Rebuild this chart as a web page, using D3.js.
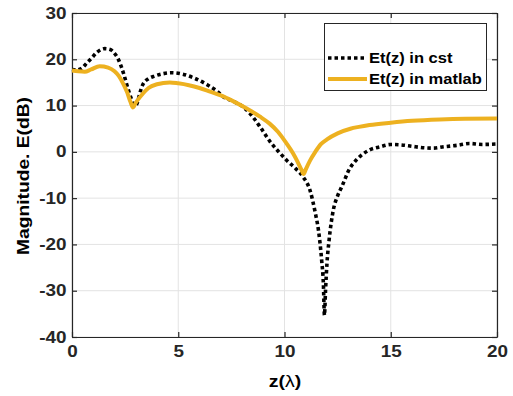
<!DOCTYPE html>
<html>
<head>
<meta charset="utf-8">
<script src="https://cdn.jsdelivr.net/npm/d3@7/dist/d3.min.js"></script>
<style>
  html, body { margin: 0; padding: 0; background: #fff; }
  svg { display: block; }
  text { font-family: "Liberation Sans", Arial, sans-serif; font-weight: bold; }
</style>
</head>
<body>
<svg id="chart" width="513" height="396"></svg>
<script>
// ---- data ----
const xTicks = [0, 5, 10, 15, 20];
const yTicks = [-40, -30, -20, -10, 0, 10, 20, 30];
const seriesNames = ["Et(z) in cst", "Et(z) in matlab"];

const cstZ = [0, 0.2, 0.44, 0.7, 0.91, 1.2, 1.54, 1.8, 2.0, 2.16, 2.32, 2.45, 2.56, 2.68, 2.79, 2.9, 3.0, 3.1, 3.2, 3.34, 3.6, 3.9, 4.3, 4.67, 5.2, 5.77, 6.4, 6.8, 7.12, 7.6, 8.06, 8.5, 8.85, 9.32, 9.79, 10.1, 10.5, 10.89, 11.2, 11.44, 11.6, 11.75, 11.83, 11.88, 11.93, 12.0, 12.1, 12.3, 12.5, 12.7, 13.08, 13.24, 13.6, 14.0, 14.5, 15.0, 15.5, 16.0, 16.5, 17.0, 17.5, 18.1, 18.7, 19.3, 20.0];
const cstE = [17.8, 17.7, 18.0, 19.2, 20.2, 21.6, 22.3, 22.1, 21.3, 20.2, 18.4, 16.6, 14.8, 13.0, 11.5, 10.2, 10.0, 11.0, 12.8, 14.6, 15.8, 16.4, 16.9, 17.1, 16.8, 15.9, 14.4, 13.2, 11.9, 10.9, 9.7, 7.6, 5.4, 2.2, -0.3, -1.8, -3.5, -5.5, -8.3, -13.0, -17.0, -23.5, -28.5, -35.3, -30.0, -24.0, -19.0, -12.5, -9.5, -7.5, -3.5, -2.5, -0.8, 0.4, 1.1, 1.6, 1.5, 1.2, 0.9, 0.8, 1.1, 1.4, 1.8, 1.6, 1.7];

const matZ = [0, 0.3, 0.6, 0.9, 1.3, 1.7, 2.0, 2.2, 2.4, 2.6, 2.75, 2.87, 3.0, 3.34, 3.6, 4.0, 4.6, 5.0, 5.5, 6.0, 6.5, 7.0, 7.6, 8.2, 8.85, 9.3, 9.7, 10.1, 10.4, 10.6, 10.8, 10.9, 11.0, 11.2, 11.45, 11.7, 12.0, 12.5, 13.1, 13.5, 14.0, 15.0, 16.0, 17.3, 18.5, 20.0];
const matE = [17.6, 17.4, 17.3, 17.8, 18.5, 18.2, 17.4, 16.4, 14.8, 12.8, 10.8, 9.6, 10.6, 12.6, 13.8, 14.6, 15.0, 14.8, 14.4, 13.8, 13.0, 12.2, 10.9, 9.4, 7.6, 6.1, 4.3, 1.8, -0.3, -2.0, -3.9, -4.8, -3.8, -1.9, 0.0, 1.6, 2.7, 4.0, 5.0, 5.4, 5.8, 6.3, 6.7, 7.0, 7.15, 7.2];

// ---- layout ----
const L = 72, R = 497, T = 13, B = 337;
const SX = 1.18; // horizontal glyph stretch
const svg = d3.select("#chart");
const x = d3.scaleLinear().domain([0, 20]).range([L, R]);
const y = d3.scaleLinear().domain([-40, 30]).range([B, T]);
const axisColor = "#262626";
const fmt = d => String(d);

// grid
const grid = svg.append("g");
grid.selectAll("line.gx").data(xTicks).join("line")
  .attr("x1", d => x(d)).attr("x2", d => x(d)).attr("y1", T).attr("y2", B)
  .attr("stroke", "#e3e3e3").attr("stroke-width", 1);
grid.selectAll("line.gy").data(yTicks).join("line")
  .attr("x1", L).attr("x2", R).attr("y1", d => y(d)).attr("y2", d => y(d))
  .attr("stroke", "#e3e3e3").attr("stroke-width", 1);

// axes
function styleAxis(g) {
  g.select(".domain").attr("stroke", axisColor).attr("stroke-width", 1.2);
  g.selectAll(".tick line").attr("stroke", axisColor).attr("stroke-width", 1.2);
}
const ax = svg.append("g").attr("transform", `translate(0,${B})`)
  .call(d3.axisBottom(x).tickValues(xTicks).tickFormat(fmt).tickSizeInner(-5).tickSizeOuter(0).tickPadding(9));
styleAxis(ax);
ax.selectAll(".tick text").attr("fill", axisColor).attr("font-size", 16)
  .attr("font-family", null).attr("transform", `scale(${SX},1)`);

const ay = svg.append("g").attr("transform", `translate(${L},0)`)
  .call(d3.axisLeft(y).tickValues(yTicks).tickFormat(fmt).tickSizeInner(-5).tickSizeOuter(0).tickPadding(5));
styleAxis(ay);
ay.selectAll(".tick text").attr("fill", axisColor).attr("font-size", 16)
  .attr("font-family", null).attr("x", -5.5 / SX).attr("transform", `scale(${SX},1)`);

const axt = svg.append("g").attr("transform", `translate(0,${T})`)
  .call(d3.axisTop(x).tickValues(xTicks).tickSizeInner(-5).tickSizeOuter(0).tickFormat(""));
styleAxis(axt);
const ayr = svg.append("g").attr("transform", `translate(${R},0)`)
  .call(d3.axisRight(y).tickValues(yTicks).tickSizeInner(-5).tickSizeOuter(0).tickFormat(""));
styleAxis(ayr);

// series
const line = d3.line().x(d => x(d[0])).y(d => y(d[1])).curve(d3.curveMonotoneX);
const cst = cstZ.map((z, i) => [z, cstE[i]]);
const mat = matZ.map((z, i) => [z, matE[i]]);

svg.append("path").datum(cst).attr("d", line)
  .attr("fill", "none").attr("stroke", "#000").attr("stroke-width", 3.6)
  .attr("stroke-dasharray", "3.5,3");
svg.append("path").datum(mat).attr("d", line)
  .attr("fill", "none").attr("stroke", "#EDB120").attr("stroke-width", 4)
  .attr("stroke-linejoin", "round");

// labels
svg.append("text").attr("transform", `translate(285,387) scale(${SX},1)`)
  .attr("text-anchor", "middle").attr("font-size", 16.5).attr("fill", "#000")
  .call(t => { t.append("tspan").text("z("); t.append("tspan").attr("font-weight", "normal").text("λ"); t.append("tspan").text(")"); });

svg.append("text").attr("transform", `translate(29,176) rotate(-90) scale(${SX},1)`)
  .attr("text-anchor", "middle").attr("font-size", 16.3).attr("fill", "#000")
  .text("Magnitude. E(dB)");

// legend
const lg = svg.append("g");
lg.append("rect").attr("x", 324.5).attr("y", 23.5).attr("width", 162).attr("height", 67)
  .attr("fill", "#fff").attr("stroke", axisColor).attr("stroke-width", 1);
const legY = [58, 79];
const styles = [
  { stroke: "#000", width: 3.6, dash: "3.5,3" },
  { stroke: "#EDB120", width: 4, dash: null }
];
seriesNames.forEach((name, i) => {
  lg.append("line").attr("x1", 328).attr("x2", 367).attr("y1", legY[i]).attr("y2", legY[i])
    .attr("stroke", styles[i].stroke).attr("stroke-width", styles[i].width)
    .attr("stroke-dasharray", styles[i].dash);
  lg.append("text").attr("transform", `translate(369,${legY[i] + 5}) scale(${SX},1)`)
    .attr("font-size", 14).attr("fill", "#000").text(name);
});
</script>
</body>
</html>
